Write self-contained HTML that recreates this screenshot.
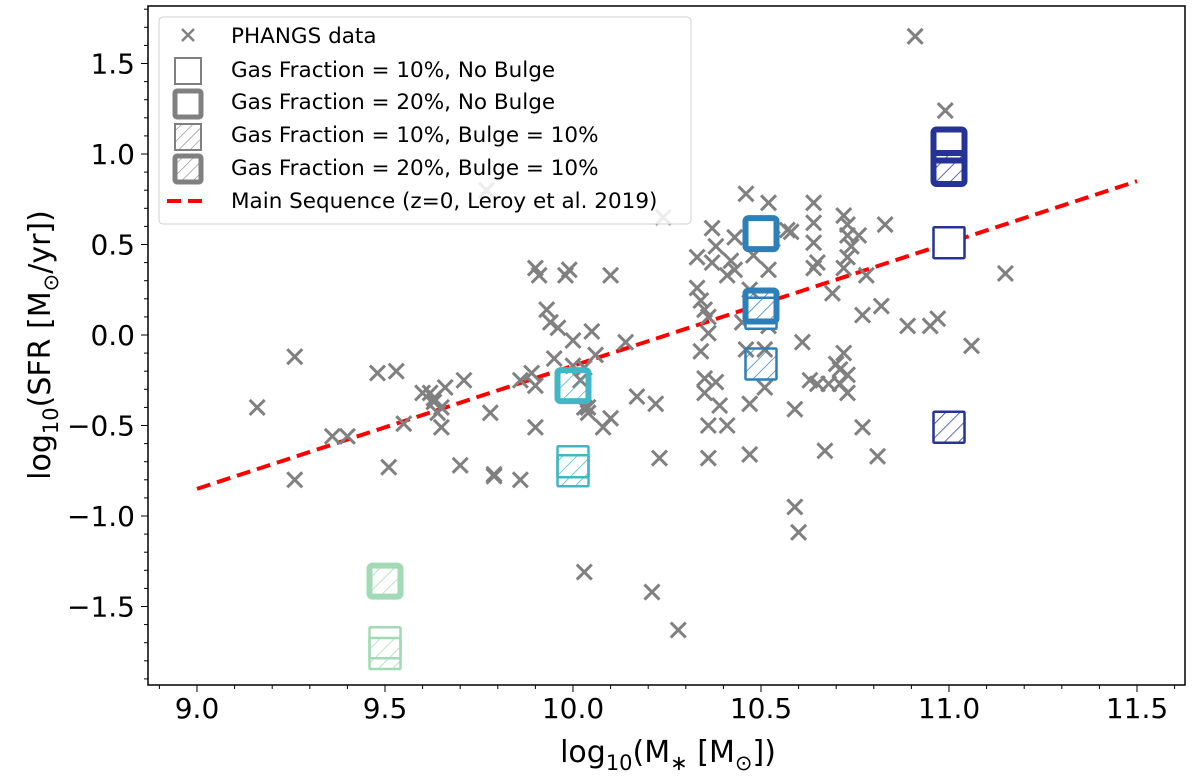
<!DOCTYPE html>
<html><head><meta charset="utf-8"><style>
html,body{margin:0;padding:0;background:#fff;}
svg{display:block;font-family:"DejaVu Sans","Liberation Sans",sans-serif;}
</style></head><body>
<svg id="chart" width="1200" height="776" viewBox="0 0 1200 776">
<defs>
<pattern id="hatch-green" patternUnits="userSpaceOnUse" width="10" height="10" patternTransform="rotate(45)"><line x1="0" y1="0" x2="0" y2="10" stroke="#a1dab4" stroke-width="1.5"/></pattern>
<pattern id="hatch-teal" patternUnits="userSpaceOnUse" width="10" height="10" patternTransform="rotate(45)"><line x1="0" y1="0" x2="0" y2="10" stroke="#41b6c4" stroke-width="1.5"/></pattern>
<pattern id="hatch-blue" patternUnits="userSpaceOnUse" width="10" height="10" patternTransform="rotate(45)"><line x1="0" y1="0" x2="0" y2="10" stroke="#2c7fb8" stroke-width="1.5"/></pattern>
<pattern id="hatch-navy" patternUnits="userSpaceOnUse" width="10" height="10" patternTransform="rotate(45)"><line x1="0" y1="0" x2="0" y2="10" stroke="#253494" stroke-width="1.5"/></pattern>
<pattern id="hatch-gray" patternUnits="userSpaceOnUse" width="8" height="8" patternTransform="rotate(45)"><line x1="0" y1="0" x2="0" y2="8" stroke="#808080" stroke-width="1.2"/></pattern>
</defs>
<g id="plot"></g>
<g id="axes"></g>
<text x="668" y="762" font-size="30" text-anchor="middle">log<tspan font-size="21" dy="8">10</tspan><tspan dy="-8">(M</tspan><tspan font-size="21" dy="8">∗</tspan><tspan dy="-8"> [M</tspan><tspan font-size="21" dy="8">⊙</tspan><tspan dy="-8">])</tspan></text>
<text transform="translate(50,345) rotate(-90)" font-size="30" text-anchor="middle">log<tspan font-size="21" dy="8">10</tspan><tspan dy="-8">(SFR [M</tspan><tspan font-size="21" dy="8">⊙</tspan><tspan dy="-8">/yr])</tspan></text>
<g id="legend">
<rect x="159" y="17" width="532" height="207" rx="4" fill="#fff" fill-opacity="0.85" stroke="#d0d0d0"/>
<g><path d="M182,29 l12,12 M194,29 l-12,12" stroke="#808080" stroke-width="2.5"/><text x="231" y="43" font-size="21.5">PHANGS data</text></g>
<g><rect x="175" y="58" width="26" height="26" fill="#fff" stroke="#808080" stroke-width="2"/><text x="231" y="77" font-size="21.5">Gas Fraction = 10%, No Bulge</text></g>
<g><rect x="175" y="91" width="26" height="26" rx="2" fill="#fff" stroke="#808080" stroke-width="5"/><text x="231" y="109" font-size="21.5">Gas Fraction = 20%, No Bulge</text></g>
<g><rect x="175" y="124" width="26" height="26" fill="url(#hatch-gray)" stroke="#808080" stroke-width="2"/><text x="231" y="142" font-size="21.5">Gas Fraction = 10%, Bulge = 10%</text></g>
<g><rect x="175" y="156" width="26" height="26" rx="2" fill="url(#hatch-gray)" stroke="#808080" stroke-width="5"/><text x="231" y="175" font-size="21.5">Gas Fraction = 20%, Bulge = 10%</text></g>
<g><line x1="167" y1="201" x2="205" y2="201" stroke="#ff0000" stroke-width="4" stroke-dasharray="14,7"/><text x="231" y="208" font-size="21.5">Main Sequence (z=0, Leroy et al. 2019)</text></g>
</g>
</svg>
<script>
const xTicks = [9.0, 9.5, 10.0, 10.5, 11.0, 11.5];
const xTickLabels = ["9.0","9.5","10.0","10.5","11.0","11.5"];
const yTicks = [1.5, 1.0, 0.5, 0.0, -0.5, -1.0, -1.5];
const yTickLabels = ["1.5","1.0","0.5","0.0","\u22120.5","\u22121.0","\u22121.5"];
const phangsX = [9.16,9.26,9.26,9.36,9.40,9.48,9.51,9.53,9.55,9.60,9.62,9.63,9.64,9.65,9.65,9.66,9.63,9.71,9.70,9.78,9.79,9.79,9.86,9.86,9.89,9.90,9.90,9.90,9.91,9.93,9.94,9.95,9.96,9.98,9.99,10.00,10.00,10.02,10.03,10.03,10.04,10.04,10.05,10.06,10.08,10.10,10.10,10.03,10.14,10.17,10.21,10.22,10.23,10.28,10.24,9.77,10.33,10.33,10.34,10.35,10.36,10.36,10.34,10.35,10.35,10.36,10.36,10.37,10.37,10.38,10.38,10.39,10.41,10.41,10.43,10.42,10.43,10.45,10.46,10.46,10.47,10.47,10.47,10.48,10.52,10.51,10.51,10.52,10.52,10.53,10.58,10.57,10.59,10.59,10.60,10.61,10.64,10.64,10.64,10.63,10.64,10.65,10.65,10.67,10.68,10.69,10.70,10.71,10.71,10.72,10.73,10.73,10.73,10.74,10.72,10.73,10.73,10.72,10.76,10.77,10.77,10.78,10.81,10.82,10.83,10.89,10.95,10.91,10.99,10.97,11.06,11.15];
const phangsY = [-0.40,-0.12,-0.80,-0.56,-0.56,-0.21,-0.73,-0.20,-0.49,-0.32,-0.32,-0.37,-0.43,-0.40,-0.51,-0.29,-0.35,-0.25,-0.72,-0.43,-0.77,-0.78,-0.80,-0.25,-0.21,0.37,-0.28,-0.51,0.33,0.14,0.07,-0.13,0.04,0.33,0.36,-0.03,-0.17,-0.25,-0.40,-0.18,-0.40,-0.43,0.02,-0.11,-0.51,0.33,-0.46,-1.31,-0.04,-0.34,-1.42,-0.38,-0.68,-1.63,0.65,0.80,0.43,0.26,0.19,0.14,0.10,0.01,-0.09,-0.24,-0.32,-0.68,-0.50,0.59,0.40,0.49,-0.26,-0.39,-0.50,0.33,0.54,0.41,0.36,0.07,0.78,-0.08,-0.66,0.25,-0.38,0.44,0.73,-0.08,-0.29,0.05,0.36,0.53,0.57,0.58,-0.41,-0.95,-1.09,-0.04,0.37,0.51,0.73,-0.25,0.62,-0.27,0.40,-0.64,-0.27,0.23,-0.16,-0.19,-0.27,0.66,0.61,0.55,0.43,0.49,0.37,-0.22,-0.32,-0.10,0.55,-0.51,0.11,0.33,-0.67,0.16,0.61,0.05,0.05,1.65,1.24,0.09,-0.06,0.34];
const modelX = [9.5, 9.5, 9.5, 10.0, 10.0, 10.0, 10.5, 10.5, 10.5, 10.5, 11.0, 11.0, 11.0, 11.0];
const modelY = [-1.36, -1.70, -1.76, -0.28, -0.70, -0.75, 0.56, 0.12, 0.16, -0.16, 1.05, 0.92, 0.51, -0.51];
const modelGas = [20, 10, 10, 20, 10, 10, 20, 10, 20, 10, 20, 20, 10, 10];
const modelBulge = [10, 0, 10, 10, 0, 10, 0, 0, 10, 10, 0, 10, 0, 10];
const msX = [9.0, 11.5];
const msY = [-0.85, 0.85];

const L=148,R=1185,T=6,B=685;
const X0=197, XS=376;
const Y0=335, YS=181;
function sx(v){return X0+(v-9)*XS;}
function sy(v){return Y0-v*YS;}
const NS="http://www.w3.org/2000/svg";
function mk(tag,attrs,parent){const e=document.createElementNS(NS,tag);for(const k in attrs)e.setAttribute(k,attrs[k]);parent.appendChild(e);return e;}
const plot=document.getElementById('plot');
const axes=document.getElementById('axes');

const ms=mk('line',{x1:sx(msX[0]),y1:sy(msY[0]),x2:sx(msX[1]),y2:sy(msY[1]),stroke:'#ff0000','stroke-width':4,'stroke-dasharray':'14,7'},plot);



for(let i=0;i<phangsX.length;i++){
  const cx=sx(phangsX[i]),cy=sy(phangsY[i]),h=7.5;
  const p=mk('path',{d:`M${cx-h},${cy-h}L${cx+h},${cy+h}M${cx+h},${cy-h}L${cx-h},${cy+h}`,stroke:'#808080','stroke-width':3},plot);
  
  
}

function colorFor(x){ if(x<9.75) return ['#a1dab4','green']; if(x<10.25) return ['#41b6c4','teal']; if(x<10.75) return ['#2c7fb8','blue']; return ['#253494','navy']; }
for(let i=0;i<modelX.length;i++){
  const [c,n]=colorFor(modelX[i]);
  const thick=modelGas[i]===20;
  const s=31;
  const cx=sx(modelX[i]),cy=sy(modelY[i]);
  const r=mk('rect',{x:cx-s/2,y:cy-s/2,width:s,height:s,rx:thick?3:1,fill:modelBulge[i]?`url(#hatch-${n})`:'#fff',stroke:c,'stroke-width':thick?6:2.5},plot);
  
  
}

const fr=mk('rect',{x:L,y:T,width:R-L,height:B-T,fill:'none',stroke:'#000','stroke-width':1.5},axes);



for(let k=89;k<=116;k++){
  const v=k/10, px=sx(v);
  if(px<L||px>R) continue;
  const major=(k%5===0);
  mk('line',{x1:px,y1:B,x2:px,y2:B+(major?7:4),stroke:'#000','stroke-width':1},axes);
}
for(let i=0;i<xTicks.length;i++){
  const t=mk('text',{x:sx(xTicks[i]),y:B+33,'font-size':28,'text-anchor':'middle'},axes);
  t.textContent=xTickLabels[i];
  
  
}
for(let k=-19;k<=18;k++){
  const v=k/10, py=sy(v);
  if(py<T||py>B) continue;
  const major=(k%5===0);
  mk('line',{x1:L,y1:py,x2:L-(major?7:4),y2:py,stroke:'#000','stroke-width':1},axes);
}
for(let i=0;i<yTicks.length;i++){
  const t=mk('text',{x:L-13,y:sy(yTicks[i])+10,'font-size':28,'text-anchor':'end'},axes);
  t.textContent=yTickLabels[i];
  
  
}
</script>
</body></html>
